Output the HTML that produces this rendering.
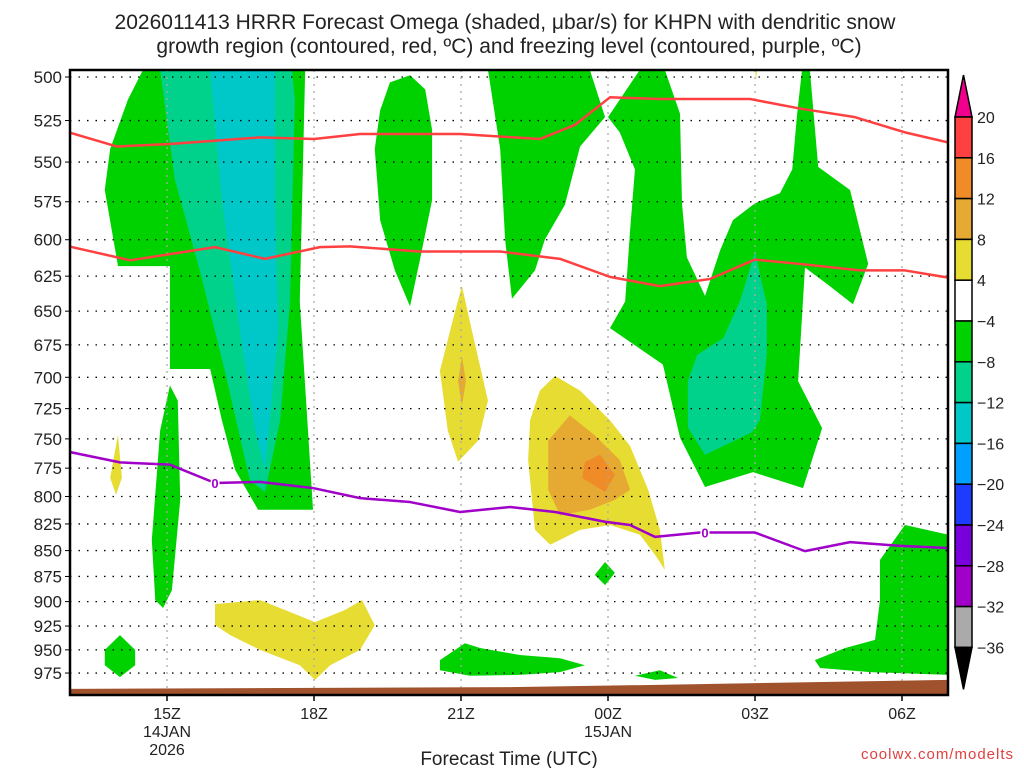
<!DOCTYPE html>
<html><head><meta charset="utf-8"><style>
body{margin:0;background:#fff;width:1024px;height:768px;overflow:hidden;font-family:"Liberation Sans",sans-serif}
svg text{font-family:"Liberation Sans",sans-serif;fill:#222}
</style></head><body>
<svg id="c" width="1024" height="768"></svg>
<script>
const pressureTicks=[500,525,550,575,600,625,650,675,700,725,750,775,800,825,850,875,900,925,950,975];
const timeTickHours=[2,5,8,11,14,17];
const timeTickLabels=["15Z","18Z","21Z","00Z","03Z","06Z"];
const cbLabels=["20","16","12","8","4","\u22124","\u22128","\u221212","\u221216","\u221220","\u221224","\u221228","\u221232","\u221236"];
const cbColors=["#ff4040","#f08c28","#e6aa32","#e6dc32","#ffffff","#00d200","#00d28c","#00c8c8","#00a0ff","#1e3cff","#7800dc","#a000c8","#aaaaaa"];
const redTopH=[0,0.98,2.06,3.9,5,5.94,7.98,9.61,10.33,11.04,12.06,13.9,14.92,16.04,17.06,17.94];
const redTopP=[532,540.5,539,535,536,533,533,536,527.5,511.5,512.5,512.5,518,523,532,538];
const redBotH=[0,1.25,2.98,4.0,5.12,5.73,7.16,8.8,10.02,11.04,12.06,13.08,14,14.92,16.14,17.06,17.94];
const redBotP=[604.5,614,605,613,605,604.5,608,608,613,625.5,632,627,613.5,616.5,621,621,626];
const frzH=[0,1.04,2.06,2.98,3.9,4.98,5.94,6.96,7.98,9.0,9.92,10.94,11.45,11.96,12.88,14,15.02,15.94,16.96,17.94];
const frzP=[761,770,772,788,787,792.5,801.5,805,814,809.5,814,823,826,837,833,833,850.5,842,845.5,847.5];
const sfcH=[0,9,12,17.94];
const sfcP=[992.5,990.5,988,982.5];
const green=[
[[1.51,496],[1.2,513],[0.84,542],[0.73,567.5],[1.0,618],[2.06,618],[2.06,693.5],[2.88,693.5],[3.12,734.5],[3.39,776.5],[3.86,812],[4.98,812],[4.71,643],[4.82,496]],
[[2.06,706.5],[2.22,718.5],[2.27,803],[2.1,888.5],[1.92,906.5],[1.76,898.5],[1.69,840],[1.86,743]],
[[1.04,934.5],[1.35,950],[1.35,966.5],[1.04,979.5],[0.73,966.5],[0.73,950]],
[[6.35,519],[6.55,503],[6.96,499],[7.27,507],[7.41,530.5],[7.41,574],[7.16,614],[6.96,646.5],[6.65,621],[6.35,587],[6.24,542]],
[[8.55,496],[10.63,496],[10.94,523],[10.43,540.5],[10.12,577],[9.71,600],[9.51,621],[9.04,641],[8.9,600],[8.8,542]],
[[11.65,496],[12.16,496],[12.47,521],[12.51,576],[12.61,612],[12.98,639],[13.29,607],[13.55,587],[14.0,576],[14.51,569.5],[14.76,554.5],[14.86,521],[14.96,496],[15.12,496],[15.29,553],[15.94,567.5],[16.31,616.5],[16.0,645],[15.47,630.5],[15.02,619],[14.88,703],[15.37,741],[14.98,792.5],[13.96,778.5],[12.98,791.5],[12.47,749],[12.12,690],[11.04,662.5],[11.35,643],[11.45,594],[11.55,554.5],[11.24,532],[11.0,523]],
[[10.94,861],[11.14,871.5],[10.94,883.5],[10.73,873.5]],
[[7.57,961],[8.08,943],[8.39,948],[9.2,955.5],[10.02,959],[10.53,966.5],[10.02,974],[9.2,977],[8.18,978],[7.57,972]],
[[11.55,978],[12.06,972],[12.43,980.5],[11.96,982.5]],
[[16.55,859],[17.06,826],[17.94,835],[17.94,977],[16.35,974],[15.33,969.5],[15.22,961],[15.84,948],[16.45,939.5],[16.55,898.5]]
];
const teal=[
[[1.86,496],[2.16,561],[2.67,621],[3.18,695],[3.69,785.5],[4.0,796],[4.31,734.5],[4.51,643],[4.61,513],[4.55,496]],
[[14.0,608.5],[14.24,645],[14.24,682.5],[14.1,734.5],[13.94,744.5],[12.98,763.5],[12.63,740.5],[12.63,703],[12.82,682.5],[13.35,670],[13.69,643]]
];
const cyan=[[[2.88,496],[4.2,496],[4.2,574],[4.27,665],[4.0,776.5],[3.8,743],[3.49,665],[3.12,574]]];
const yellow=[
[[1.0,746.5],[1.08,783.5],[0.96,798.5],[0.84,783.5]],
[[2.98,902.5],[3.9,898.5],[4.51,910.5],[5.02,921],[5.63,908.5],[5.98,898.5],[6.24,924],[5.94,950],[5.33,966.5],[5.02,982.5],[4.71,966.5],[3.9,950],[3.29,934.5],[2.98,924]],
[[8.02,632],[8.18,657.5],[8.55,718.5],[8.35,751.5],[7.94,769.5],[7.73,743],[7.57,695],[7.88,650]],
[[9.92,699],[10.43,710.5],[11.04,734.5],[11.45,756],[11.82,794],[12.06,830.5],[12.16,868.5],[11.96,854],[11.65,835],[11.04,826],[10.43,830.5],[9.82,844.5],[9.51,830.5],[9.37,768],[9.41,734.5],[9.61,710.5]],
[[14.0,494],[14.05,494],[14.02,502]]
];
const gold=[
[[8.02,684],[8.1,703],[8.02,722.5],[7.94,703]],
[[10.22,730.5],[10.73,747],[11.24,768],[11.45,794],[11.14,803],[10.63,812],[10.02,817],[9.78,794],[9.78,751.5]]
];
const orange=[[[10.84,763.5],[11.14,781],[10.94,796],[10.47,783.5],[10.53,769.5]]];

const NS="http://www.w3.org/2000/svg";
const svg=document.getElementById('c');
const L=70,R=948,T=70,B=695;
function X(h){return 69+49*h;}
function Y(p){return 77+892.5*Math.log(p/500);}
function el(tag,attrs,parent){const e=document.createElementNS(NS,tag);for(const k in attrs)e.setAttribute(k,attrs[k]);(parent||svg).appendChild(e);return e;}
const defs=el('defs',{});
const cp=el('clipPath',{id:'pc'},defs);el('rect',{x:L,y:T,width:R-L,height:B-T},cp);
const g=el('g',{'clip-path':'url(#pc)'});


function polys(list,color,name){list.forEach(pts=>{const p=el('polygon',{points:pts.map(q=>X(q[0])+','+Y(q[1])).join(' '),fill:color},g);

});}
polys(green,'#00d200','omega-region-green');
polys(teal,'#00d28c','omega-region-teal');
polys(cyan,'#00c8c8','omega-region-cyan');
polys(yellow,'#e6dc32','omega-region-yellow');
polys(gold,'#e6aa32','omega-region-gold');
polys(orange,'#f08c28','omega-region-orange');
pressureTicks.forEach(p=>{const l=el('line',{x1:L,x2:R,y1:Y(p),y2:Y(p),stroke:'#000','stroke-width':1.3,'stroke-dasharray':'1.5 7'},g);

});
timeTickHours.forEach(h=>{const l=el('line',{x1:X(h),x2:X(h),y1:T,y2:B,stroke:'#aaa','stroke-width':1.3,'stroke-dasharray':'2 5'},g);

});
let tp=sfcH.map((h,i)=>X(h)+','+Y(sfcP[i]));tp.push(R+5+','+(B+5));tp.push(L-5+','+(B+5));
const ter=el('polygon',{points:tp.join(' '),fill:'#a0522d'},g);


function line(hs,ps,color,name){const l=el('polyline',{points:hs.map((h,i)=>X(h)+','+Y(ps[i])).join(' '),fill:'none',stroke:color,'stroke-width':2.5,'stroke-linejoin':'round'},g);

}
line(redTopH,redTopP,'#ff4040','dgz-top-line');
line(redBotH,redBotP,'#ff4040','dgz-bottom-line');
line(frzH,frzP,'#a000c8','freezing-level-line');
[[2.98,788],[12.98,833]].forEach(q=>{const t=el('text',{x:X(q[0]),y:Y(q[1])+5,'text-anchor':'middle','font-size':13,'font-weight':'bold',stroke:'#fff','stroke-width':3,'paint-order':'stroke'},g);t.textContent='0';t.style.fill='#a000c8';

});
const fr=el('rect',{x:L,y:T,width:R-L,height:B-T,fill:'none',stroke:'#000','stroke-width':2.5});


pressureTicks.forEach(p=>{const t=el('text',{x:62,y:Y(p)+6,'text-anchor':'end','font-size':17});t.textContent=p;


el('line',{x1:L-5,x2:L,y1:Y(p),y2:Y(p),stroke:'#000'});});
timeTickHours.forEach((h,i)=>{el('line',{x1:X(h),x2:X(h),y1:B,y2:B+6,stroke:'#000','stroke-width':1.5});
const t=el('text',{x:X(h),y:719,'text-anchor':'middle','font-size':16});t.textContent=timeTickLabels[i];

});
[[2,737,'14JAN'],[2,755,'2026'],[11,737,'15JAN']].forEach(a=>{const t=el('text',{x:X(a[0]),y:a[1],'text-anchor':'middle','font-size':16});t.textContent=a[2];

});
const xt=el('text',{x:509,y:765,'text-anchor':'middle','font-size':19});xt.textContent='Forecast Time (UTC)';


const cr=el('text',{x:1014,y:759,'text-anchor':'end','font-size':15,'letter-spacing':'1'});cr.textContent='coolwx.com/modelts';cr.style.fill='#e04040';


const t1=el('text',{x:505,y:29,'text-anchor':'middle','font-size':21});t1.textContent='2026011413 HRRR Forecast Omega (shaded, \u03bcbar/s) for KHPN with dendritic snow';


const t2=el('text',{x:509,y:53,'text-anchor':'middle','font-size':21});t2.textContent='growth region (contoured, red, \u00baC) and freezing level (contoured, purple, \u00baC)';


const cx=955,cw=17,ctop=117,step=40.8;
const tri1=el('polygon',{points:`${cx},${ctop} ${cx+cw},${ctop} ${cx+cw/2},${ctop-42}`,fill:'#f0008c',stroke:'#000','stroke-width':1.5});


cbColors.forEach((c,i)=>{const r=el('rect',{x:cx,y:ctop+i*step,width:cw,height:step,fill:c,stroke:'#000','stroke-width':1.5});

});
const yb=ctop+cbColors.length*step;
const tri2=el('polygon',{points:`${cx},${yb} ${cx+cw},${yb} ${cx+cw/2},${yb+42}`,fill:'#000',stroke:'#000','stroke-width':1.5});


cbLabels.forEach((s,i)=>{const t=el('text',{x:977,y:ctop+i*step+6,'font-size':16});t.textContent=s;

});
</script>
</body></html>
